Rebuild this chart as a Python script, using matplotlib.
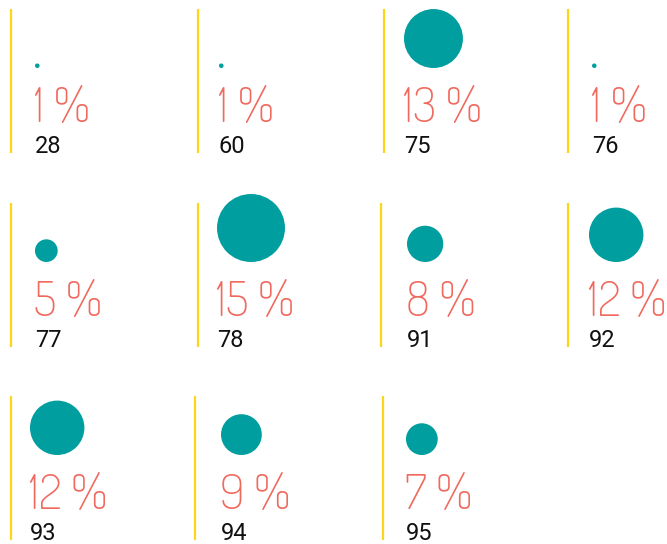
import matplotlib
matplotlib.use("Agg")
import matplotlib.pyplot as plt
from matplotlib.patches import Circle

# values
labels = ["28", "60", "75", "76", "77", "78", "91", "92", "93", "94", "95"]
shares = [1, 1, 13, 1, 5, 15, 8, 12, 12, 9, 7]

# layout (pixels): yellow rule x, content left x, row of each cell
rule_x = [11, 198, 384, 568, 11, 198, 381, 568, 11, 195, 383]
text_x = [35, 219, 404, 592, 35, 217, 407, 589, 30, 221, 406]
row_of = [0, 0, 0, 0, 1, 1, 1, 1, 2, 2, 2]
row_top = [9, 203, 396]

TEAL = "#009e9f"
SALMON = "#f0695e"
YELLOW = "#fdd615"
PX_PER_PCT = 34.0 / 15  # circle radius per percent

W, H = 667, 544
fig = plt.figure(figsize=(W / 100, H / 100), dpi=100)
ax = fig.add_axes([0, 0, 1, 1])
ax.set_xlim(0, W)
ax.set_ylim(H, 0)
ax.axis("off")

for lab, v, lx, tx, r in zip(labels, shares, rule_x, text_x, row_of):
    top = row_top[r]
    ax.plot([lx, lx], [top, top + 144], color=YELLOW, lw=1.6, solid_capstyle="butt")
    rad = v * PX_PER_PCT
    ax.add_patch(Circle((tx + rad, top + 59 - rad), rad, color=TEAL, lw=0))
    ax.text(tx - 1, top + 113, "%d %%" % v, color=SALMON, fontsize=35,
            family="Dosis", weight=200, va="baseline", ha="left")
    ax.text(tx, top + 144, lab, color="#111111", fontsize=17,
            family="Roboto", weight=400, va="baseline", ha="left")

fig.savefig("out.png", dpi=100)
